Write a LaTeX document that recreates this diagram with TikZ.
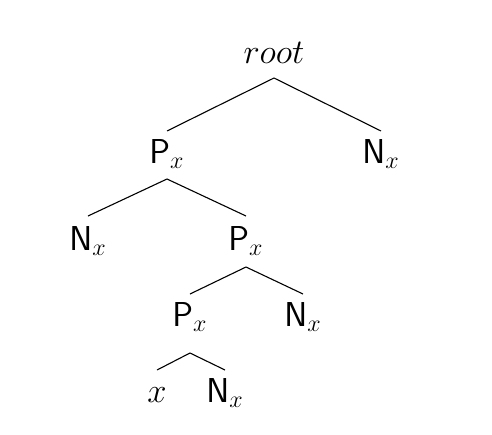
\documentclass[tikz,border=0pt]{standalone}
\usetikzlibrary{calc}
\begin{document}
\begin{tikzpicture}[x=0.5pt,y=-0.5pt,
  lbl/.style={anchor=base,inner sep=0pt,font=\fontsize{18.7}{22}\selectfont},
  edge/.style={draw=black,line width=0.55pt}]
\useasboundingbox (0,0) rectangle (492,434);
\node[lbl] (root) at (274,63) {$root$};
\node[lbl] (p1) at (167,163) {$\mathsf{P}_x$};
\node[lbl] (n1) at (381,163) {$\mathsf{N}_x$};
\node[lbl] (n2) at (88,250) {$\mathsf{N}_x$};
\node[lbl] (p2) at (246,250) {$\mathsf{P}_x$};
\node[lbl] (p3) at (190,326) {$\mathsf{P}_x$};
\node[lbl] (n3) at (303,326) {$\mathsf{N}_x$};
\node[lbl] (x4) at (157,402) {$x$};
\node[lbl] (n4) at (225,402) {$\mathsf{N}_x$};
\draw[edge] ($(p1.base)+(0,-32)$) -- ($(root.base)+(0,15)$) -- ($(n1.base)+(0,-32)$);
\draw[edge] ($(n2.base)+(0,-34)$) -- ($(p1.base)+(0,16)$) -- ($(p2.base)+(0,-34)$);
\draw[edge] ($(p3.base)+(0,-32)$) -- ($(p2.base)+(0,17)$) -- ($(n3.base)+(0,-32)$);
\draw[edge] ($(x4.base)+(0,-32)$) -- ($(p3.base)+(0,27)$) -- ($(n4.base)+(0,-32)$);
\end{tikzpicture}
\end{document}
